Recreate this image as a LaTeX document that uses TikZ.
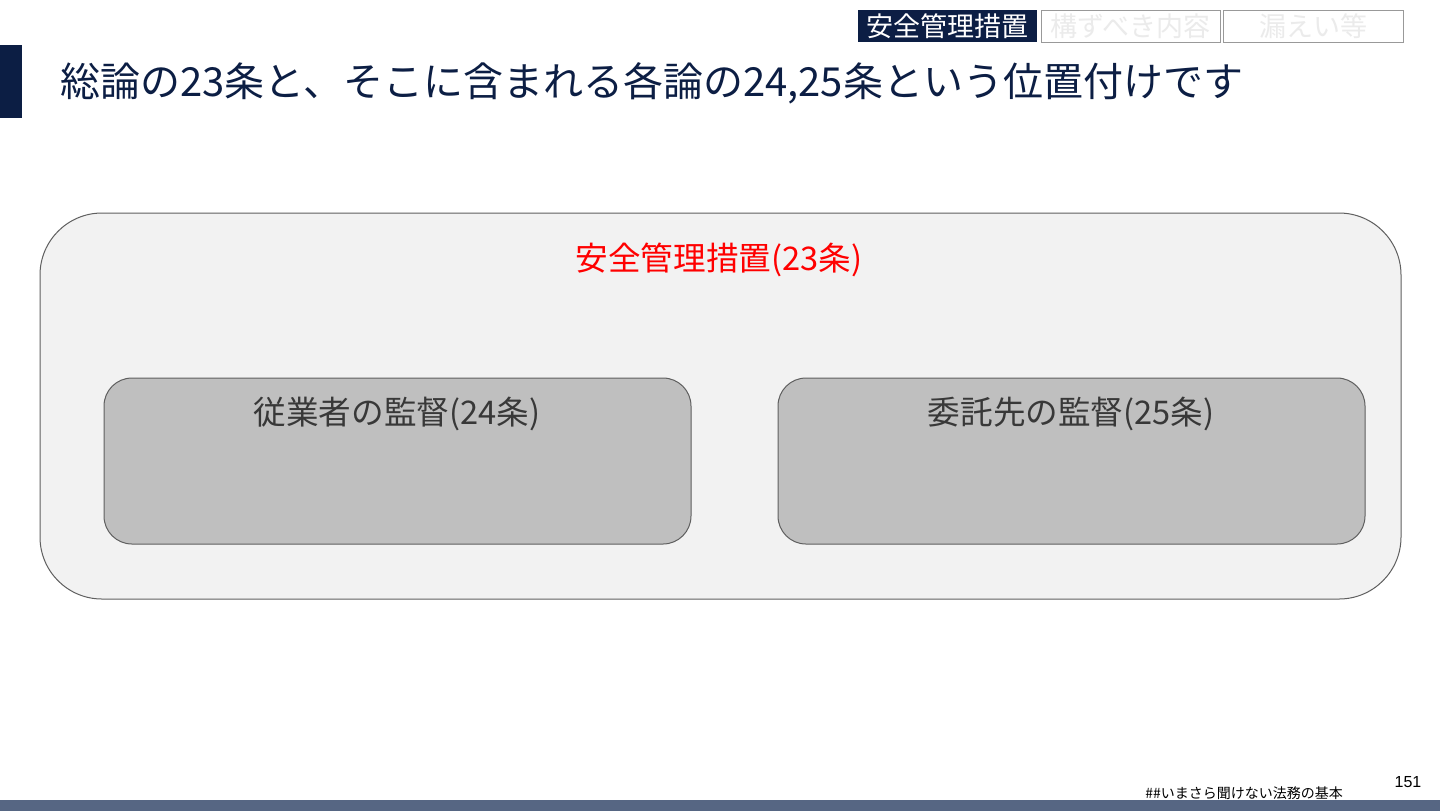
\documentclass[tikz,border=0pt]{standalone}
\usepackage{fontspec}
\setmainfont{Noto Sans CJK JP}
\newfontfamily\numfont{Liberation Sans}
\definecolor{navy}{HTML}{0C1E44}
\definecolor{barblue}{HTML}{566683}
\definecolor{boxgray}{HTML}{BFBFBF}
\definecolor{panel}{HTML}{F2F2F2}
\definecolor{edge}{HTML}{5F5F5F}
\definecolor{fainttxt}{HTML}{EBEBEB}

\tikzset{
  tabtext/.style={font=\fontsize{13.5pt}{16pt}\selectfont,inner sep=0pt},
  boxtext/.style={font=\fontsize{16.3pt}{19pt}\selectfont,inner sep=0pt,text=black!78},
}

\begin{document}
\begin{tikzpicture}[x=0.5pt,y=-0.5pt]
    \fill[white] (0,0) rectangle (1440,811);
    \useasboundingbox (0,0) rectangle (1440,811);

    % header
    \fill[barblue] (0,800) rectangle (1440,811);
    \fill[navy] (0,45) rectangle (22,118);
    \node[anchor=west,inner sep=0pt,text=navy,font=\fontsize{20pt}{24pt}\selectfont] (title) at (60,83)
      {総論の23条と、そこに含まれる各論の24,25条という位置付けです};

    % tabs
    \fill[navy] (858,10) rectangle (1037,42);
    \draw[gray!80,fill=white] (1041,10) rectangle (1220,42);
    \draw[gray!80,fill=white] (1223,10) rectangle (1403,42);
    \node[tabtext,text=white] (tab1) at (947.5,26) {安全管理措置};
    \node[tabtext,text=fainttxt] (tab2) at (1130.5,26) {構ずべき内容};
    \node[tabtext,text=fainttxt] (tab3) at (1313,26) {漏えい等};

    % outer panel
    \begin{scope}
      \draw[edge,line width=0.5pt,fill=panel,rounded corners=31pt] (40,213) rectangle (1401,599);
      \node[boxtext,text=red] (art23) at (719,260) {安全管理措置(23条)};
    \end{scope}

    % inner boxes
    \begin{scope}
      \draw[edge,line width=0.5pt,fill=boxgray,rounded corners=14pt] (104,378) rectangle (691,544);
      \draw[edge,line width=0.5pt,fill=boxgray,rounded corners=14pt] (778,378) rectangle (1365,544);
      \node[boxtext] (art24) at (397,414) {従業者の監督(24条)};
      \node[boxtext] (art25) at (1071,414) {委託先の監督(25条)};
    \end{scope}

    % footer
    \node[anchor=west,inner sep=0pt,font=\fontsize{7pt}{8pt}\selectfont] (footer) at (1145,793) {\#\#いまさら聞けない法務の基本};
    \node[inner sep=0pt,font=\numfont\fontsize{8pt}{9pt}\selectfont] (pageno) at (1408,782) {151};
\end{tikzpicture}
\end{document}
